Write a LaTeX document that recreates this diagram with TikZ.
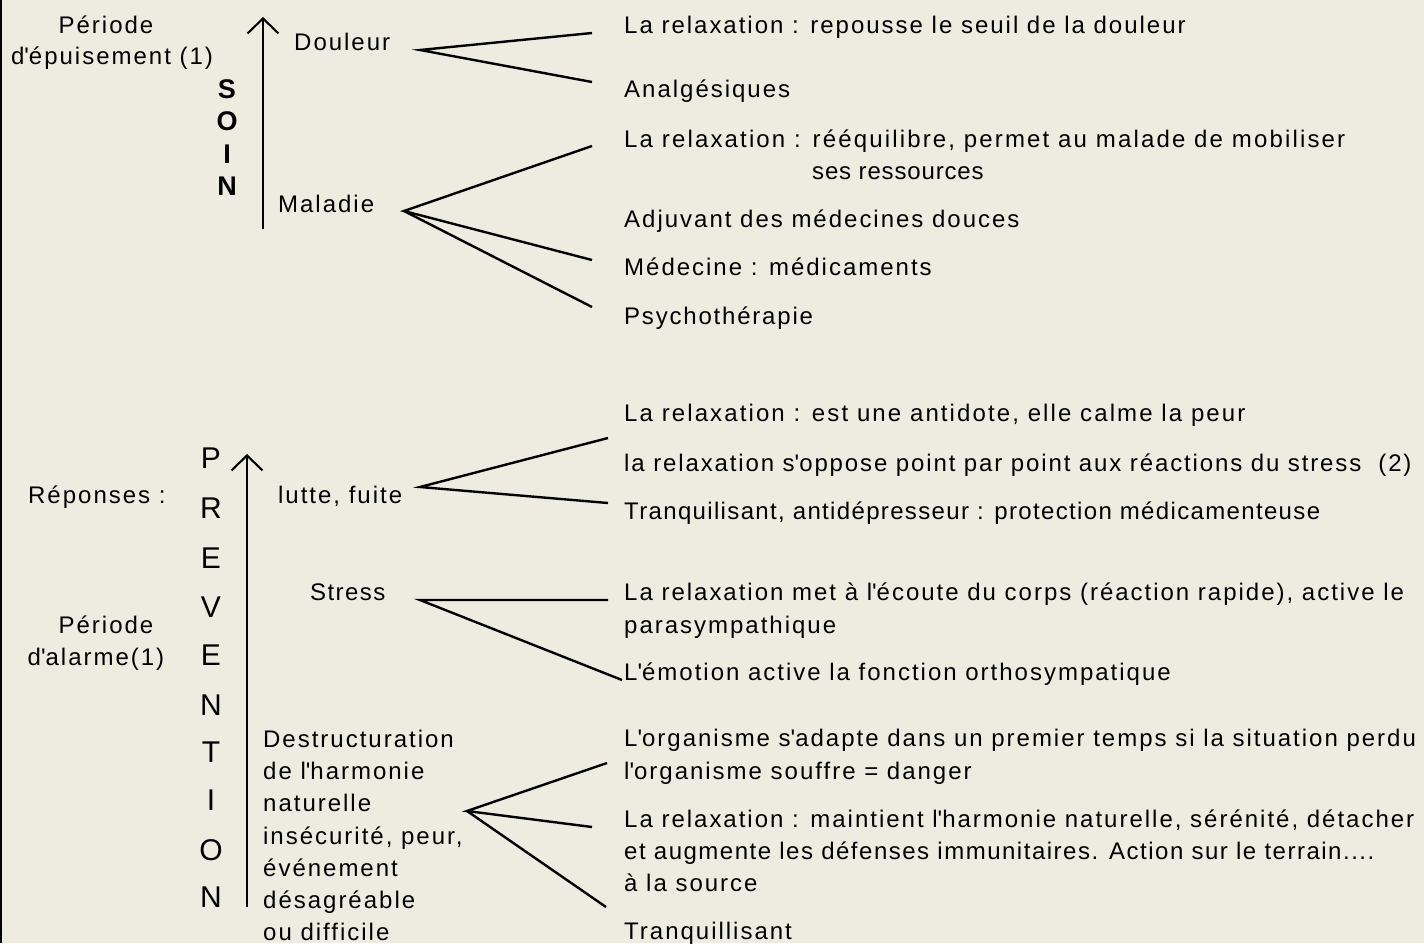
\documentclass[tikz,border=0pt]{standalone}
\usepackage{fontspec}
\setmainfont{Liberation Sans}[LetterSpace=8.3]
\usetikzlibrary{arrows.meta}
\definecolor{bgc}{HTML}{EEEBE0}
\newcommand{\ap}{\textquotesingle}
\begin{document}
\begin{tikzpicture}[x=1pt,y=-1pt,
  txt/.style={inner sep=0pt,anchor=base west,font=\fontsize{24}{29}\selectfont},
  ls/.style={font=\fontsize{24}{29}\selectfont\addfontfeature{LetterSpace=#1}},
  ctxt/.style={txt,anchor=base},
  big/.style={inner sep=0pt,anchor=base,font=\fontsize{30}{36}\selectfont},
  bigb/.style={inner sep=0pt,anchor=base,font=\fontsize{27}{32}\selectfont\bfseries},
  fan/.style={line width=2.4pt},
  axisarrow/.style={line width=2.3pt,-{Straight Barb[length=15pt,width=31pt,line width=2.1pt]}}]
\fill[bgc] (0,0) rectangle (1424,943);
\useasboundingbox (0,0) rectangle (1424,943);
\draw[line width=2.5pt] (1,0) -- (1,943);

% ---------- SOIN part ----------
\node[ctxt] (pe1) at (106,33) {Période};
\node[ctxt] (pe2) at (112,64) {d\ap épuisement (1)};
\node[bigb] (sS) at (227,98) {S};
\node[bigb] (sO) at (227,130) {O};
\node[bigb] (sI) at (227,163) {I};
\node[bigb] (sN) at (227,195) {N};
\coordinate (s0) at (263,229);
\coordinate (s1) at (263,17);
\draw[axisarrow] (s0) -- (s1);

\node[txt] (dou) at (294,50) {Douleur};
\node[txt] (mal) at (278,212) {Maladie};

\node[txt] (r1) at (624,33) {La relaxation : repousse le seuil de la douleur};
\node[txt] (r2) at (624,97) {Analgésiques};
\node[txt,ls=9] (r3) at (624,147) {La relaxation : rééquilibre, permet au malade de mobiliser};
\node[txt,ls=3.5] (r3b) at (812,179) {ses ressources};
\node[txt] (r4) at (624,227) {Adjuvant des médecines douces};
\node[txt] (r5) at (624,275) {Médecine : médicaments};
\node[txt,ls=7.5] (r6) at (624,324) {Psychothérapie};

\coordinate (ad) at (420,50);
\coordinate (ad1) at (592,33);
\coordinate (ad2) at (592,82);
\draw[fan] (ad1) -- (ad) -- (ad2);

\coordinate (am) at (404,211);
\coordinate (am1) at (592,146);
\coordinate (am2) at (592,260);
\coordinate (am3) at (592,307);
\draw[fan] (am1) -- (am) -- (am2);
\draw[fan] (am) -- (am3);

% ---------- PREVENTION part ----------
\node[txt] (rep) at (28,503) {Réponses :};
\node[ctxt] (pa1) at (106,633) {Période};
\node[ctxt] (pa2) at (96,665) {d\ap alarme(1)};

\node[big] (p1) at (211,468) {P};
\node[big] (p2) at (211,518) {R};
\node[big] (p3) at (211,568) {E};
\node[big] (p4) at (211,617) {V};
\node[big] (p5) at (211,665) {E};
\node[big] (p6) at (211,715) {N};
\node[big] (p7) at (211,762) {T};
\node[big] (p8) at (211,810) {I};
\node[big] (p9) at (211,860) {O};
\node[big] (p10) at (211,907) {N};
\coordinate (v0) at (247,907);
\coordinate (v1) at (247,454);
\draw[axisarrow] (v0) -- (v1);

\node[txt] (lut) at (278,503) {lutte, fuite};
\node[txt,ls=6] (str) at (310,600) {Stress};
\node[txt] (de1) at (263,747) {Destructuration};
\node[txt] (de2) at (263,779) {de l\ap harmonie};
\node[txt] (de3) at (263,811) {naturelle};
\node[txt] (de4) at (263,844) {insécurité, peur,};
\node[txt] (de5) at (263,876) {événement};
\node[txt] (de6) at (263,908) {désagréable};
\node[txt] (de7) at (263,940) {ou difficile};

\node[txt,ls=8.8] (q1) at (624,421) {La relaxation : est une antidote, elle calme la peur};
\node[txt,ls=7.8] (q2) at (624,471) {la relaxation s\ap oppose point par point aux réactions du stress\ \ (2)};
\node[txt,ls=5.6] (q3) at (624,519) {Tranquilisant, antidépresseur : protection médicamenteuse};
\node[txt] (q4) at (624,600) {La relaxation met à l\ap écoute du corps (réaction rapide), active le};
\node[txt] (q4b) at (624,633) {parasympathique};
\node[txt] (q5) at (624,680) {L\ap émotion active la fonction orthosympatique};
\node[txt] (q6) at (624,746) {L\ap organisme s\ap adapte dans un premier temps si la situation perdu};
\node[txt] (q6b) at (624,779) {l\ap organisme souffre = danger};
\node[txt] (q7) at (624,827) {La relaxation : maintient l\ap harmonie naturelle, sérénité, détacher};
\node[txt,ls=6.3] (q7b) at (624,859) {et augmente les défenses immunitaires. Action sur le terrain....};
\node[txt] (q7c) at (624,891) {à la source};
\node[txt] (q8) at (624,939) {Tranquillisant};

\coordinate (al) at (420,487);
\coordinate (al1) at (608,438);
\coordinate (al2) at (608,503);
\draw[fan] (al1) -- (al) -- (al2);

\coordinate (as) at (420,600);
\coordinate (as1) at (608,600);
\coordinate (as2) at (622,680);
\draw[fan] (as1) -- (as) -- (as2);

\coordinate (ax) at (467,811);
\coordinate (ax1) at (607,763);
\coordinate (ax2) at (592,827);
\coordinate (ax3) at (606,907);
\draw[fan] (ax1) -- (ax) -- (ax2);
\draw[fan] (ax) -- (ax3);
\end{tikzpicture}
\end{document}
